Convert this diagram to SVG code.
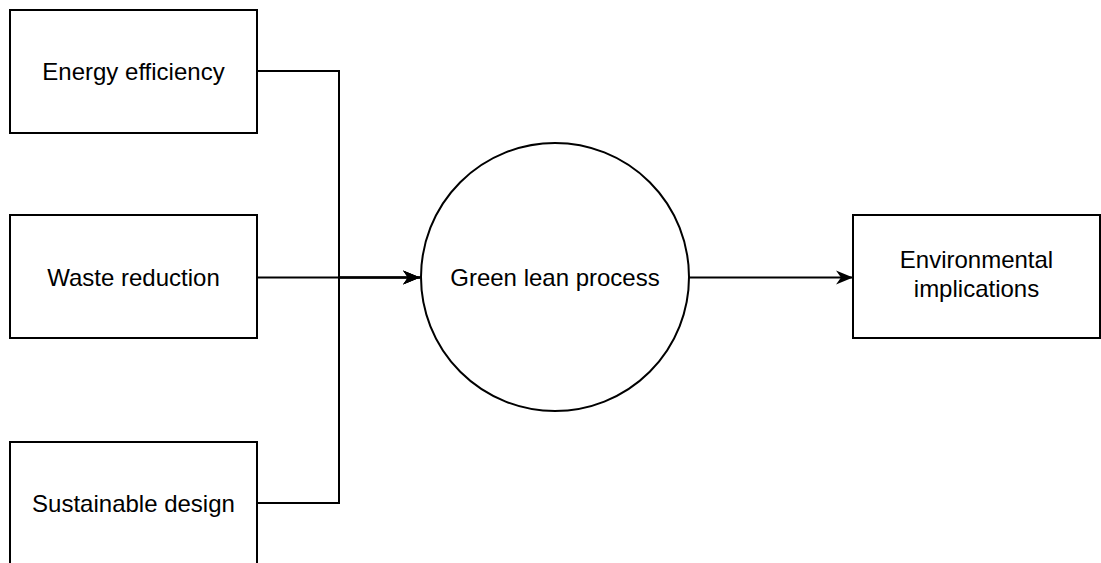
<svg xmlns="http://www.w3.org/2000/svg" width="1101" height="563" viewBox="0 0 1101 563">
  <style>
    .box { fill: #ffffff; stroke: #000000; stroke-width: 2; }
    .label { font-family: "Liberation Sans", Arial, sans-serif; font-size: 24px; fill: #000000; text-anchor: middle; }
    .edge { fill: none; stroke: #000000; stroke-width: 2; }
  </style>
  <defs>
    <marker id="arrow" viewBox="0 0 18 16" refX="17" refY="8" markerWidth="18" markerHeight="16" markerUnits="userSpaceOnUse" orient="auto">
      <path d="M17,8 L0,1 L5,8 L0,15 Z" fill="#000000"/>
    </marker>
  </defs>
  <rect width="1101" height="563" fill="#ffffff"/>

  <!-- connectors -->
  <g id="connectors">
    <path class="edge" d="M257,71 H339 V277.5 H420" marker-end="url(#arrow)"/>
    <path class="edge" d="M257,277.5 H420" marker-end="url(#arrow)"/>
    <path class="edge" d="M257,503 H339 V277.5 H420" marker-end="url(#arrow)"/>
    <path class="edge" d="M689,277.5 H853" marker-end="url(#arrow)"/>
  </g>

  <g id="energy-efficiency">
    <rect class="box" x="10" y="10" width="247" height="123"/>
    <text class="label" x="133.5" y="79.5">Energy efficiency</text>
  </g>

  <g id="waste-reduction">
    <rect class="box" x="10" y="215" width="247" height="123"/>
    <text class="label" x="133.5" y="286">Waste reduction</text>
  </g>

  <g id="sustainable-design">
    <rect class="box" x="10" y="442" width="247" height="123"/>
    <text class="label" x="133.5" y="511.5">Sustainable design</text>
  </g>

  <g id="green-lean-process">
    <circle class="box" cx="555" cy="277" r="134"/>
    <text class="label" x="555" y="285.5">Green lean process</text>
  </g>

  <g id="environmental-implications">
    <rect class="box" x="853" y="215" width="247" height="123"/>
    <text class="label" x="976.5" y="268">Environmental</text>
    <text class="label" x="976.5" y="297">implications</text>
  </g>
</svg>
